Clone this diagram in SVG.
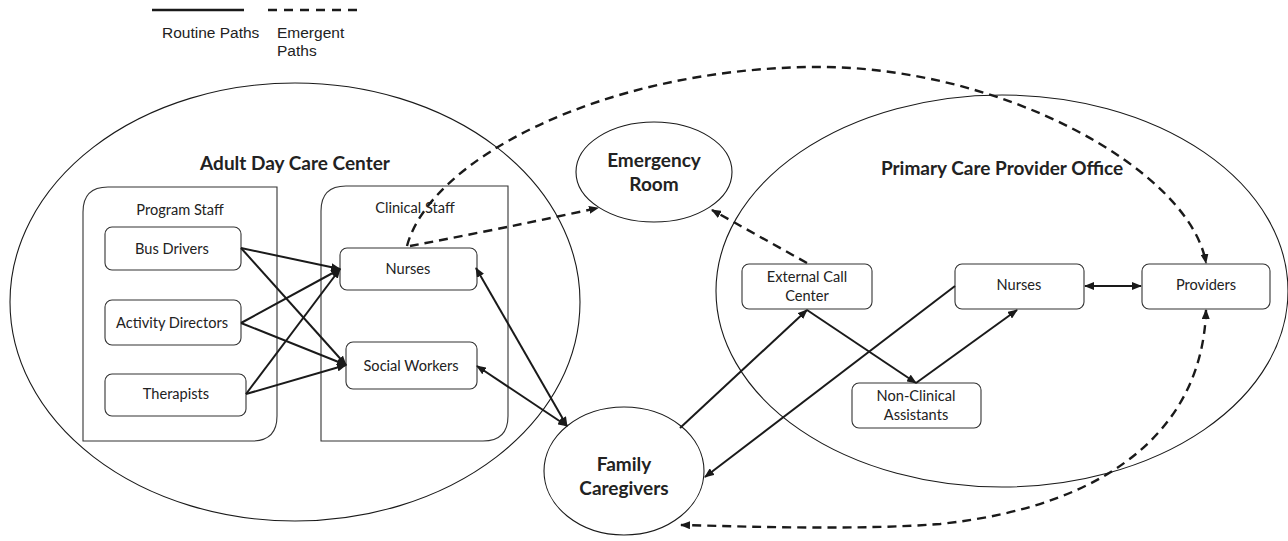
<svg xmlns="http://www.w3.org/2000/svg" width="1288" height="541" viewBox="0 0 1288 541">
<style>
.bg{fill:#fff}
.ell{fill:none;stroke:#1a1a1a;stroke-width:1.1}
.box{fill:#fff;stroke:#333;stroke-width:1.1}
.cont{fill:none;stroke:#333;stroke-width:1.1}
.lbl{font-family:Lato,"Open Sans",sans-serif;font-size:14.6px;fill:#222;text-anchor:middle}
.ttl{font-family:Lato,"Open Sans",sans-serif;font-size:19px;font-weight:bold;fill:#222;text-anchor:middle}
.leg{font-family:"Liberation Sans",Arial,sans-serif;font-size:15.5px;fill:#222}
.solid{fill:none;stroke:#1a1a1a;stroke-width:2}
.dash{fill:none;stroke:#1a1a1a;stroke-width:2.4;stroke-dasharray:9 6}
</style>
<defs>
<marker id="ah" markerUnits="userSpaceOnUse" markerWidth="10" markerHeight="8" refX="9" refY="4" orient="auto-start-reverse">
<path d="M0,0 L10,4 L0,8 z" fill="#1a1a1a"/>
</marker>
</defs>
<rect class="bg" x="0" y="0" width="1288" height="541"/>

<g id="legend">
<line x1="152" y1="10" x2="244" y2="10" stroke="#1a1a1a" stroke-width="2.5"/>
<line x1="268" y1="10" x2="358" y2="10" stroke="#1a1a1a" stroke-width="2.5" stroke-dasharray="9 7"/>
<text class="leg" x="162" y="38">Routine Paths</text>
<text class="leg" x="277" y="38">Emergent</text>
<text class="leg" x="277" y="56">Paths</text>
</g>

<g id="adult-day-care-center">
<ellipse class="ell" cx="295" cy="302" rx="285" ry="219"/>
<text class="ttl" x="295" y="170">Adult Day Care Center</text>
</g>

<g id="program-staff">
<path class="cont" d="M83,441 L83,212 Q83,187 108,187 L277,187 L277,416 Q277,441 252,441 Z"/>
<text class="lbl" x="180" y="215">Program Staff</text>
</g>

<g id="clinical-staff">
<path class="cont" d="M321,441 L321,211 Q321,186 346,186 L508,186 L508,416 Q508,441 483,441 Z"/>
<text class="lbl" x="415" y="213">Clinical Staff</text>
</g>

<g id="bus-drivers">
<rect class="box" x="105" y="227" width="136" height="43" rx="7"/>
<text class="lbl" x="172" y="254">Bus Drivers</text>
</g>
<g id="activity-directors">
<rect class="box" x="105" y="300" width="136" height="45" rx="7"/>
<text class="lbl" x="172" y="328">Activity Directors</text>
</g>
<g id="therapists">
<rect class="box" x="105" y="374" width="141" height="42" rx="7"/>
<text class="lbl" x="176" y="399">Therapists</text>
</g>
<g id="adc-nurses">
<rect class="box" x="340" y="248" width="137" height="42" rx="7"/>
<text class="lbl" x="408" y="274">Nurses</text>
</g>
<g id="social-workers">
<rect class="box" x="346" y="342" width="131" height="47" rx="7"/>
<text class="lbl" x="411" y="371">Social Workers</text>
</g>

<g id="emergency-room">
<ellipse class="ell" cx="654" cy="172" rx="78" ry="50"/>
<text class="ttl" x="654" y="167">Emergency</text>
<text class="ttl" x="654" y="191">Room</text>
</g>

<g id="primary-care-provider-office">
<ellipse class="ell" cx="1002" cy="291" rx="286" ry="196"/>
<text class="ttl" x="1002" y="175">Primary Care Provider Office</text>
</g>

<g id="external-call-center">
<rect class="box" x="742" y="264" width="130" height="45" rx="7"/>
<text class="lbl" x="807" y="282">External Call</text>
<text class="lbl" x="807" y="301">Center</text>
</g>
<g id="pcp-nurses">
<rect class="box" x="955" y="264" width="129" height="45" rx="7"/>
<text class="lbl" x="1019" y="290">Nurses</text>
</g>
<g id="providers">
<rect class="box" x="1142" y="264" width="128" height="45" rx="7"/>
<text class="lbl" x="1206" y="290">Providers</text>
</g>
<g id="non-clinical-assistants">
<rect class="box" x="852" y="383" width="129" height="45" rx="7"/>
<text class="lbl" x="916" y="401">Non-Clinical</text>
<text class="lbl" x="916" y="420">Assistants</text>
</g>

<g id="family-caregivers">
<ellipse class="ell" cx="624" cy="471" rx="80" ry="64"/>
<text class="ttl" x="624" y="471">Family</text>
<text class="ttl" x="624" y="495">Caregivers</text>
</g>

<g id="connectors">
<path class="solid" d="M241,248 L340,269" marker-end="url(#ah)"/>
<path class="solid" d="M241,248 L346,365" marker-end="url(#ah)"/>
<path class="solid" d="M241,323 L340,269" marker-end="url(#ah)"/>
<path class="solid" d="M241,323 L346,365" marker-end="url(#ah)"/>
<path class="solid" d="M246,394 L340,269" marker-end="url(#ah)"/>
<path class="solid" d="M246,394 L346,365" marker-end="url(#ah)"/>
<path class="solid" d="M476,268 L567,426" marker-start="url(#ah)" marker-end="url(#ah)"/>
<path class="solid" d="M477,366 L567,426" marker-start="url(#ah)" marker-end="url(#ah)"/>
<path class="dash" d="M410,246 Q500,229 598,208" marker-end="url(#ah)"/>
<path class="dash" d="M407,246 C430,160 600,70 810,67 C1000,64 1190,170 1206,263" marker-end="url(#ah)"/>
<path class="dash" d="M807,263 L712,210" marker-end="url(#ah)"/>
<path class="solid" d="M680,428 L807,310" marker-end="url(#ah)"/>
<path class="solid" d="M807,310 L916,383" marker-end="url(#ah)"/>
<path class="solid" d="M916,383 L1017,310" marker-end="url(#ah)"/>
<path class="solid" d="M955,286 L705,477" marker-end="url(#ah)"/>
<path class="solid" d="M1085,286 L1141,286" marker-start="url(#ah)" marker-end="url(#ah)"/>
<path class="dash" d="M1206,310 C1203,420 1120,505 940,524 C860,530 760,527 681,525" marker-start="url(#ah)" marker-end="url(#ah)"/>
</g>
</svg>
